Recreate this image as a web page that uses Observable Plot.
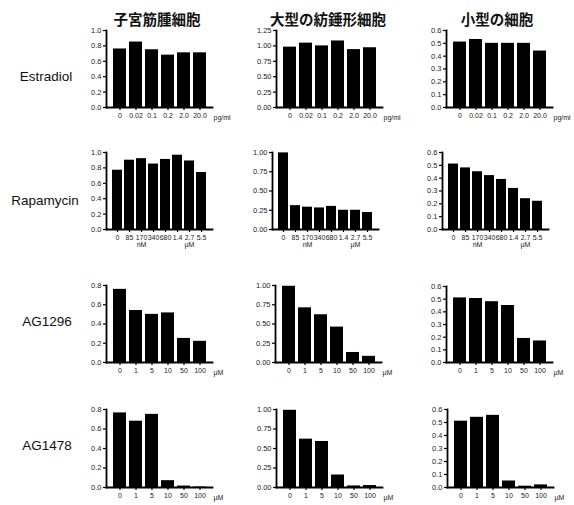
<!DOCTYPE html>
<html>
<head>
<meta charset="utf-8">
<script src="https://cdn.jsdelivr.net/npm/d3@7"></script>
<script src="https://cdn.jsdelivr.net/npm/@observablehq/plot@0.6"></script>
<style>
  html, body { margin: 0; padding: 0; background: #fff; }
  #fig { position: relative; width: 574px; height: 505px; overflow: hidden; background: #fff; }
  .coltitle { position: absolute; transform: translate(-50%, -50%); font-family: "Noto Sans CJK JP", sans-serif; font-weight: bold; font-size: 14.5px; color: #111; white-space: nowrap; }
  .rowlabel { position: absolute; transform: translate(-50%, -50%); font-family: "Liberation Sans", Arial, sans-serif; font-size: 13.5px; color: #111; white-space: nowrap; }
  .panel { position: absolute; }
  .panel svg { max-width: none !important; }
</style>
</head>
<body>
<div id="fig"></div>
<script>
// ---- data ----
const columnTitles = ["子宮筋腫細胞", "大型の紡錘形細胞", "小型の細胞"];
const rowLabels = ["Estradiol", "Rapamycin", "AG1296", "AG1478"];

const estradiolDoses = ["0", "0.02", "0.1", "0.2", "2.0", "20.0"];
const estradiolUnit = "pg/ml";
const rapamycinDoses = ["0", "85", "170", "340", "680", "1.4", "2.7", "5.5"];
const rapamycinSubLabels = ["", "", "nM", "", "", "", "µM", ""];
const agDoses = ["0", "1", "5", "10", "50", "100"];
const agUnit = "µM";

const estradiolFibroid = [0.76, 0.85, 0.75, 0.68, 0.71, 0.71];
const estradiolSpindle = [0.98, 1.045, 1.0, 1.08, 0.94, 0.97];
const estradiolSmall = [0.51, 0.53, 0.50, 0.50, 0.50, 0.44];

const rapamycinFibroid = [0.77, 0.90, 0.92, 0.85, 0.91, 0.965, 0.89, 0.74];
const rapamycinSpindle = [0.995, 0.31, 0.29, 0.28, 0.30, 0.25, 0.25, 0.22];
const rapamycinSmall = [0.51, 0.48, 0.45, 0.42, 0.39, 0.32, 0.24, 0.22];

const ag1296Fibroid = [0.76, 0.54, 0.50, 0.515, 0.25, 0.22];
const ag1296Spindle = [0.99, 0.71, 0.62, 0.46, 0.13, 0.08];
const ag1296Small = [0.51, 0.505, 0.48, 0.45, 0.19, 0.17];

const ag1478Fibroid = [0.765, 0.68, 0.75, 0.07, 0.015, 0.005];
const ag1478Spindle = [0.99, 0.62, 0.59, 0.16, 0.02, 0.025];
const ag1478Small = [0.51, 0.54, 0.555, 0.05, 0.01, 0.02];

const yTicksFibroid = [0, 0.2, 0.4, 0.6, 0.8, 1.0];
const yTicksFibroidAG = [0, 0.2, 0.4, 0.6, 0.8];
const yTicksSpindle125 = [0, 0.25, 0.5, 0.75, 1.0, 1.25];
const yTicksSpindle = [0, 0.25, 0.5, 0.75, 1.0];
const yTicksSmall = [0, 0.1, 0.2, 0.3, 0.4, 0.5, 0.6];

// ---- layout ----
const fig = document.getElementById("fig");
const colTitlePos = [[157, 18], [328, 18], [497, 18]];
const rowLabelPos = [[46, 76], [45, 200], [47, 321], [47, 445]];

columnTitles.forEach((t, i) => {
  const d = document.createElement("div");
  d.className = "coltitle";
  d.textContent = t;
  d.style.left = colTitlePos[i][0] + "px";
  d.style.top = colTitlePos[i][1] + "px";
  fig.appendChild(d);
});
rowLabels.forEach((t, i) => {
  const d = document.createElement("div");
  d.className = "rowlabel";
  d.textContent = t;
  d.style.left = rowLabelPos[i][0] + "px";
  d.style.top = rowLabelPos[i][1] + "px";
  fig.appendChild(d);
});

const panels = [
  // row 1
  {doses: estradiolDoses, values: estradiolFibroid, ticks: yTicksFibroid, fmt: 1, unit: estradiolUnit, ax: 106, top: 30, bottom: 107},
  {doses: estradiolDoses, values: estradiolSpindle, ticks: yTicksSpindle125, fmt: 2, unit: estradiolUnit, ax: 276, top: 30, bottom: 107},
  {doses: estradiolDoses, values: estradiolSmall, ticks: yTicksSmall, fmt: 1, unit: estradiolUnit, ax: 446, top: 30, bottom: 107},
  // row 2
  {doses: rapamycinDoses, sub: rapamycinSubLabels, values: rapamycinFibroid, ticks: yTicksFibroid, fmt: 1, ax: 106, top: 152, bottom: 229},
  {doses: rapamycinDoses, sub: rapamycinSubLabels, values: rapamycinSpindle, ticks: yTicksSpindle, fmt: 2, ax: 272, top: 152, bottom: 229},
  {doses: rapamycinDoses, sub: rapamycinSubLabels, values: rapamycinSmall, ticks: yTicksSmall, fmt: 1, ax: 442, top: 152, bottom: 229},
  // row 3
  {doses: agDoses, values: ag1296Fibroid, ticks: yTicksFibroidAG, fmt: 1, unit: agUnit, ax: 106, top: 285, bottom: 362},
  {doses: agDoses, values: ag1296Spindle, ticks: yTicksSpindle, fmt: 2, unit: agUnit, ax: 275, top: 285, bottom: 362},
  {doses: agDoses, values: ag1296Small, ticks: yTicksSmall, fmt: 1, unit: agUnit, ax: 446, top: 286, bottom: 362},
  // row 4
  {doses: agDoses, values: ag1478Fibroid, ticks: yTicksFibroidAG, fmt: 1, unit: agUnit, ax: 106, top: 409, bottom: 487},
  {doses: agDoses, values: ag1478Spindle, ticks: yTicksSpindle, fmt: 2, unit: agUnit, ax: 276, top: 409, bottom: 487},
  {doses: agDoses, values: ag1478Small, ticks: yTicksSmall, fmt: 1, unit: agUnit, ax: 447, top: 409, bottom: 487}
];

const mL = 30, mR = 32, mT = 6, mB = 24, plotW = 106;
const font = "Liberation Sans, Arial, sans-serif";

panels.forEach(p => {
  const data = p.doses.map((d, i) => ({dose: d, value: p.values[i]}));
  const h = p.bottom - p.top;
  const fmt = d3.format("." + p.fmt + "f");
  const marks = [
    Plot.barY(data, {x: "dose", y: "value", fill: "#000"}),
    Plot.axisY({ticks: p.ticks, tickFormat: fmt, tickSize: 3, tickPadding: 2, fontSize: 7.5, stroke: "#000", strokeWidth: 1.2, fill: "#222", label: null}),
    Plot.axisX({
      tickSize: 3, tickPadding: 3, fontSize: 7, stroke: "#000", strokeWidth: 1.2, fill: "#222", label: null,
      tickFormat: p.sub ? (d => p.sub[p.doses.indexOf(d)] ? d + "\n" + p.sub[p.doses.indexOf(d)] : d) : (d => d)
    }),
    Plot.frame({anchor: "left", stroke: "#000", strokeWidth: 1.8}),
    Plot.frame({anchor: "bottom", stroke: "#000", strokeWidth: 1.8})
  ];
  if (p.unit) {
    marks.push(Plot.text([p.unit], {frameAnchor: "bottom-right", textAnchor: "start", lineAnchor: "middle", dx: 1, dy: 10, fontSize: 7, fill: "#222"}));
  }
  const W = mL + plotW + mR;
  const chart = Plot.plot({
    width: W,
    height: mT + h + mB,
    marginLeft: mL, marginRight: mR, marginTop: mT, marginBottom: mB,
    style: {background: "transparent", fontFamily: font, overflow: "visible", maxWidth: "none"},
    x: {type: "band", domain: p.doses, paddingInner: 0.2, paddingOuter: 0.25},
    y: {domain: [p.ticks[0], p.ticks[p.ticks.length - 1]]},
    marks
  });
  const wrap = document.createElement("div");
  wrap.className = "panel";
  wrap.style.left = (p.ax - mL) + "px";
  wrap.style.top = (p.top - mT) + "px";
  wrap.style.width = W + "px";
  wrap.appendChild(chart);
  fig.appendChild(wrap);
});
</script>
</body>
</html>
